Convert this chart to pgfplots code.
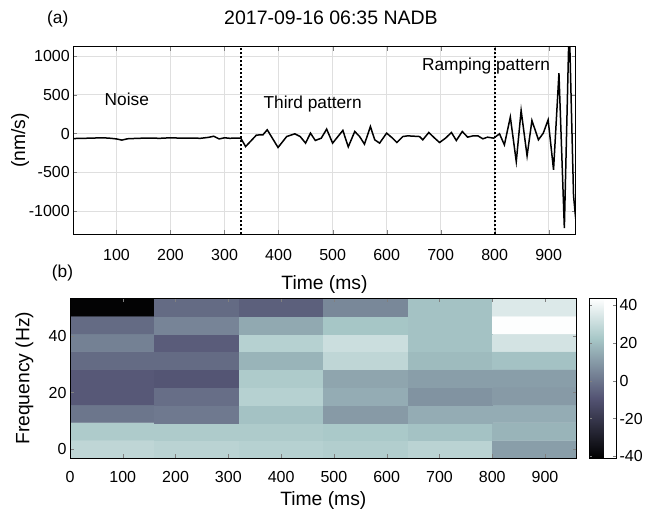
\documentclass[border=0pt]{standalone}
\usepackage{fontspec}
\setmainfont{Liberation Sans}
\usepackage{pgfplots}
\pgfplotsset{compat=1.18}
\usepackage{pgfplotstable}

\pgfplotstableread{
t v
20 -65
40 -62
60 -58
75 -55
90 -62
100 -70
110 -85
120 -68
140 -62
160 -58
180 -62
200 -55
220 -60
240 -58
255 -62
270 -50
280 -35
290 -70
300 -55
310 -62
320 -58
330 -60
339 -168
359 -20
371 -17
379 48
399 -180
415 -39
430 -4
440 -39
450 -124
459 5
468 -90
479 -60
489 57
500 -124
519 40
529 -172
541 26
550 -39
559 -137
570 90
578 -81
587 -124
600 5
611 -60
619 -116
630 -39
639 -30
661 -39
667 -81
678 13
689 -60
698 -116
709 -60
720 13
729 -90
740 26
750 -47
760 -30
769 -30
778 -68
787 -47
798 -60
809 -4
818 -146
829 212
840 -361
849 297
860 -288
869 168
881 -81
890 5
899 177
909 -468
919 779
929 -1220
938 1450
946 -800
950 -1100
}\wave

\pgfplotstableread{
x y c
80 0 28
240 0 27
400 0 26
560 0 25
720 0 27
880 0 11
80 6.25 24
240 6.25 24
400 6.25 24
560 6.25 23
720 6.25 21
880 6.25 17
80 12.5 0
240 12.5 1
400 12.5 21
560 12.5 10
720 12.5 15
880 12.5 15
80 18.75 -8
240 18.75 -2
400 18.75 26
560 18.75 15
720 18.75 8
880 18.75 10
80 25 -8
240 25 -9
400 25 24
560 25 13
720 25 11
880 25 11
80 31.25 -3
240 31.25 -3
400 31.25 17
560 31.25 28
720 31.25 19
880 31.25 21
80 37.5 3
240 37.5 -7
400 37.5 26
560 37.5 31
720 37.5 21
880 37.5 33
80 43.75 -3
240 43.75 4
400 43.75 14
560 43.75 22
720 43.75 21
880 43.75 43
80 50 -40
240 50 -3
400 50 -6
560 50 5
720 50 21
880 50 35
}\spec

\begin{document}
\begin{tikzpicture}[font=\fontsize{16}{19}\selectfont]
\useasboundingbox (0,0) rectangle (646pt,513pt);
\begin{axis}[
  at={(73.3pt,278.7pt)}, anchor=south west,
  scale only axis, width=502.4pt, height=187.6pt,
  xmin=20, xmax=950, ymin=-1300, ymax=1120,
  xtick={100,200,...,900},
  ytick={-1000,-500,0,500,1000},
  yticklabels={-1000,-500,0,500,1000},
  /pgf/number format/assume math mode=true,
  tick align=inside, major tick length=4pt,
  xticklabel style={yshift=-12pt},
  grid=major, grid style={gray!25, line width=0.6pt},
  axis line style={line width=0.9pt},
  xlabel={Time (ms)}, ylabel={(nm/s)},
  label style={font=\fontsize{19.3}{22}\selectfont},
  xlabel style={at={(axis description cs:0.5,-0.265)}, anchor=center},
  ylabel style={at={(axis description cs:-0.106,0.5)}, anchor=center},
  clip mode=individual,
  title={2017-09-16 06:35 NADB},
  title style={at={(axis description cs:0.513,1.121)}, anchor=center, font=\fontsize{19.5}{22}\selectfont},
]
\addplot[black, line width=1.5pt] table[x=t,y=v]{\wave};
\addplot[black, line width=2pt, dotted] coordinates {(330,-1300) (330,1120)};
\addplot[black, line width=2pt, dotted] coordinates {(800,-1300) (800,1120)};
\begin{scope}[font=\fontsize{17.3}{20}\selectfont]
\node at (axis cs:119,435) {Noise};
\node at (axis cs:463,382) {Third pattern};
\node at (axis cs:784,865) {Ramping pattern};
\node at (axis description cs:-0.031,1.150) {(a)};
\node at (axis description cs:-0.0215,-0.204) {(b)};
\end{scope}
\end{axis}
\begin{axis}[
  at={(70pt,54.7pt)}, anchor=south west,
  scale only axis, width=506.7pt, height=160pt,
  xmin=0, xmax=960, ymin=-3.125, ymax=53.125,
  xtick={0,100,...,900}, ytick={0,20,40},
  /pgf/number format/assume math mode=true,
  tick align=inside, major tick length=4pt,
  xticklabel style={yshift=-10pt},
  axis line style={line width=0.9pt},
  axis on top,
  xlabel={Time (ms)}, ylabel={Frequency (Hz)},
  label style={font=\fontsize{19.3}{22}\selectfont},
  xlabel style={at={(axis description cs:0.5,-0.265)}, anchor=center},
  ylabel style={at={(axis description cs:-0.09,0.5)}, anchor=center},
  colormap={bone}{rgb(0cm)=(0,0,0); rgb(3cm)=(0.328,0.328,0.453); rgb(6cm)=(0.656,0.781,0.781); rgb(8cm)=(1,1,1)},
  point meta min=-41, point meta max=43.5,
  colorbar,
  colorbar style={
    at={(1.0249,1)}, anchor=north west,
    width=26.7pt,
    ytick={-40,-20,0,20,40},
    yticklabels={-40,-20,0,20,40},
    tick align=inside, major tick length=3pt,
    axis line style={line width=0.9pt},
    yticklabel style={font=\fontsize{16}{19}\selectfont},
  },
]
\addplot[matrix plot*, mesh/cols=6, point meta=explicit] table[x=x,y=y,meta=c]{\spec};
\end{axis}
\end{tikzpicture}
\end{document}
